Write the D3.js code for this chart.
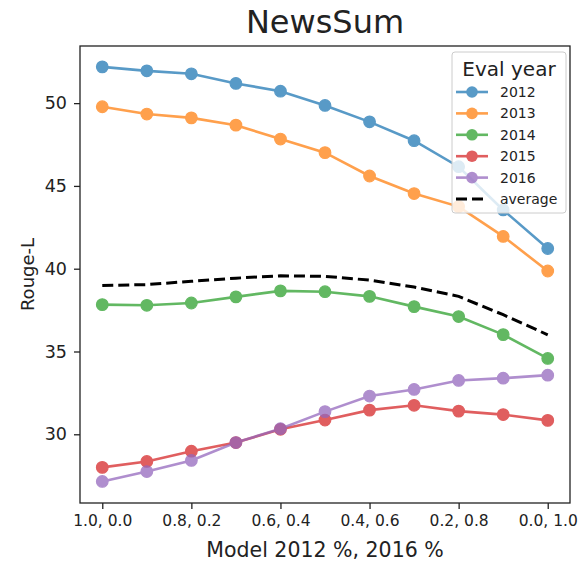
<!DOCTYPE html>
<html>
<head>
<meta charset="utf-8">
<script src="https://cdn.jsdelivr.net/npm/d3@7"></script>
<style>
  body { margin: 0; background: #fff; }
  text { font-family: "DejaVu Sans", sans-serif; fill: #222; }
</style>
</head>
<body>
<script>
// data
const xLabels = ["1.0, 0.0", "", "0.8, 0.2", "", "0.6, 0.4", "", "0.4, 0.6", "", "0.2, 0.8", "", "0.0, 1.0"];
const years = ["2012", "2013", "2014", "2015", "2016"];
const colors = ["#1f77b4", "#ff7f0e", "#2ca02c", "#d62728", "#9467bd"];
const s2012 = [52.19, 51.95, 51.77, 51.19, 50.72, 49.86, 48.87, 47.73, 46.16, 43.55, 41.22];
const s2013 = [49.78, 49.34, 49.11, 48.67, 47.83, 47.01, 45.60, 44.54, 43.75, 41.95, 39.86];
const s2014 = [37.83, 37.79, 37.93, 38.30, 38.66, 38.61, 38.33, 37.71, 37.11, 36.02, 34.58];
const s2015 = [28.00, 28.36, 28.98, 29.50, 30.30, 30.86, 31.46, 31.75, 31.40, 31.19, 30.84];
const s2016 = [27.15, 27.75, 28.42, 29.50, 30.34, 31.37, 32.31, 32.71, 33.25, 33.39, 33.57];
const average = [38.99, 39.04, 39.24, 39.43, 39.57, 39.54, 39.31, 38.89, 38.33, 37.22, 36.01];
const yTicks = [30, 35, 40, 45, 50];

const seriesList = [s2012, s2013, s2014, s2015, s2016];

const W = 584, H = 561;
const plot = { left: 80, right: 570, top: 46, bottom: 503 };

const svg = d3.select("body").append("svg").attr("width", W).attr("height", H);

const x = d3.scaleLinear().domain([-0.5, 10.5]).range([plot.left, plot.right]);
const y = d3.scaleLinear().domain([25.85, 53.45]).range([plot.bottom, plot.top]);

// axes
svg.append("g")
  .attr("transform", `translate(0,${plot.bottom})`)
  .call(d3.axisBottom(x).tickValues([0, 2, 4, 6, 8, 10]).tickFormat(i => xLabels[i]).tickSize(6).tickPadding(6))
  .call(g => g.select(".domain").remove())
  .call(g => g.selectAll("line").attr("stroke", "#222").attr("stroke-width", 1.3))
  .call(g => g.selectAll("text").attr("font-size", 15.5).attr("fill", "#222"));

svg.append("g")
  .attr("transform", `translate(${plot.left},0)`)
  .call(d3.axisLeft(y).tickValues(yTicks).tickSize(6).tickPadding(7))
  .call(g => g.select(".domain").remove())
  .call(g => g.selectAll("line").attr("stroke", "#222").attr("stroke-width", 1.3))
  .call(g => g.selectAll("text").attr("font-size", 17.5).attr("fill", "#222"));

// frame
svg.append("rect")
  .attr("x", plot.left).attr("y", plot.top)
  .attr("width", plot.right - plot.left).attr("height", plot.bottom - plot.top)
  .attr("fill", "none").attr("stroke", "#222").attr("stroke-width", 1.3);

const line = d3.line().x((d, i) => x(i)).y(d => y(d));

// series
seriesList.forEach((s, k) => {
  const g = svg.append("g").attr("opacity", 0.74);
  g.append("path").datum(s).attr("d", line)
    .attr("fill", "none").attr("stroke", colors[k]).attr("stroke-width", 2.6);
  g.selectAll("circle").data(s).enter().append("circle")
    .attr("cx", (d, i) => x(i)).attr("cy", d => y(d)).attr("r", 5.8)
    .attr("fill", colors[k]).attr("stroke", colors[k]).attr("stroke-width", 1.2);
});

svg.append("path").datum(average).attr("d", line)
  .attr("fill", "none").attr("stroke", "#000").attr("stroke-width", 3)
  .attr("stroke-dasharray", "11,5");

// titles
svg.append("text").attr("x", (plot.left + plot.right) / 2).attr("y", 33)
  .attr("text-anchor", "middle").attr("font-size", 32).attr("fill", "#111").text("NewsSum");
svg.append("text").attr("x", (plot.left + plot.right) / 2).attr("y", 557)
  .attr("text-anchor", "middle").attr("font-size", 20.5).text("Model 2012 %, 2016 %");
svg.append("text").attr("transform", `translate(34,${(plot.top + plot.bottom) / 2}) rotate(-90)`)
  .attr("text-anchor", "middle").attr("font-size", 18).text("Rouge-L");

// legend
const legend = svg.append("g").attr("transform", "translate(452,52)");
legend.append("rect").attr("width", 114).attr("height", 161).attr("rx", 3)
  .attr("fill", "#fff").attr("fill-opacity", 0.8).attr("stroke", "#ccc");
legend.append("text").attr("x", 57).attr("y", 24).attr("text-anchor", "middle")
  .attr("font-size", 20).text("Eval year");
const entries = years.map((yr, k) => ({ label: yr, color: colors[k], dash: false }))
  .concat([{ label: "average", color: "#000", dash: true }]);
entries.forEach((e, k) => {
  const yy = 40 + k * 21.4;
  const g = legend.append("g");
  if (e.dash) {
    g.append("line").attr("x1", 4).attr("x2", 36).attr("y1", yy).attr("y2", yy)
      .attr("stroke", "#000").attr("stroke-width", 3).attr("stroke-dasharray", "11,5");
  } else {
    g.attr("opacity", 0.74);
    g.append("line").attr("x1", 4).attr("x2", 36).attr("y1", yy).attr("y2", yy)
      .attr("stroke", e.color).attr("stroke-width", 2.6);
    g.append("circle").attr("cx", 20).attr("cy", yy).attr("r", 5.8).attr("fill", e.color);
  }
  legend.append("text").attr("x", 48).attr("y", yy + 5).attr("font-size", 14).text(e.label);
});
</script>
</body>
</html>
